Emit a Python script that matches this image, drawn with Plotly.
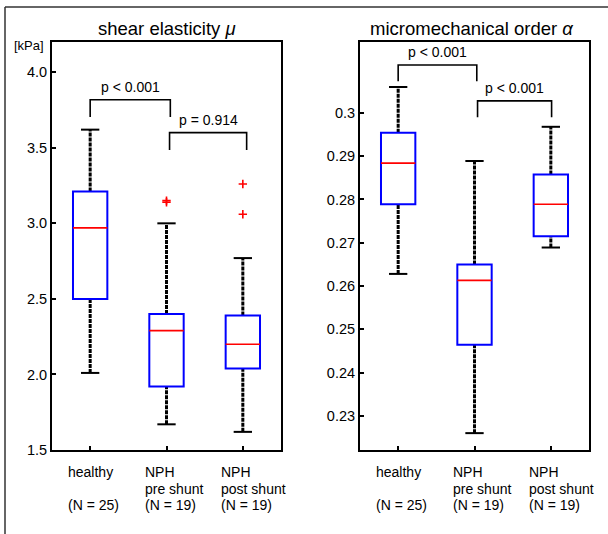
import plotly.graph_objects as go
from plotly.subplots import make_subplots

# ---------------- data ----------------
groups = ["healthy", "NPH pre shunt", "NPH post shunt"]
group_label_lines = [["healthy", "", "(N = 25)"],
                     ["NPH", "pre shunt", "(N = 19)"],
                     ["NPH", "post shunt", "(N = 19)"]]

# shear elasticity mu [kPa]
mu_lower = [2.01, 1.67, 1.62]
mu_q1 = [2.50, 1.92, 2.04]
mu_median = [2.97, 2.29, 2.20]
mu_q3 = [3.21, 2.40, 2.39]
mu_upper = [3.62, 3.00, 2.77]
mu_outlier_group = [1, 1, 2, 2]
mu_outlier_value = [3.14, 3.15, 3.06, 3.26]
mu_ticks = [1.5, 2.0, 2.5, 3.0, 3.5, 4.0]
mu_ticktext = ["1.5", "2.0", "2.5", "3.0", "3.5", "4.0"]

# micromechanical order alpha
al_lower = [0.2628, 0.2260, 0.2689]
al_q1 = [0.2789, 0.2464, 0.2715]
al_median = [0.2884, 0.2613, 0.2789]
al_q3 = [0.2954, 0.2650, 0.2858]
al_upper = [0.3060, 0.2889, 0.2968]
al_ticks = [0.23, 0.24, 0.25, 0.26, 0.27, 0.28, 0.29, 0.30]
al_ticktext = ["0.23", "0.24", "0.25", "0.26", "0.27", "0.28", "0.29", "0.3"]

# significance brackets: (group a, group b, label)
mu_pairs = [(0, 1, "p < 0.001"), (1, 2, "p = 0.914")]
al_pairs = [(0, 1, "p < 0.001"), (1, 2, "p < 0.001")]

# ---------------- figure ----------------
W, H = 608, 534
fig = make_subplots(rows=1, cols=2)

BOX_HALF = 0.225
CAP_HALF = 0.12
FONT = "Liberation Sans, Arial, Helvetica, sans-serif"


def add_boxes(col, lower, q1, med, q3, upper):
    xref = "x" if col == 1 else "x2"
    yref = "y" if col == 1 else "y2"
    for i in range(len(groups)):
        # whiskers
        for a, b in ((q3[i], upper[i]), (lower[i], q1[i])):
            fig.add_trace(go.Scatter(x=[i, i], y=[a, b], mode="lines",
                                     line=dict(color="black", width=3, dash="4px,1px"),
                                     hoverinfo="skip", showlegend=False), row=1, col=col)
        # caps
        for v in (upper[i], lower[i]):
            fig.add_trace(go.Scatter(x=[i - CAP_HALF, i + CAP_HALF], y=[v, v], mode="lines",
                                     line=dict(color="black", width=2),
                                     hoverinfo="skip", showlegend=False), row=1, col=col)
        # box
        fig.add_shape(type="rect", xref=xref, yref=yref,
                      x0=i - BOX_HALF, x1=i + BOX_HALF, y0=q1[i], y1=q3[i],
                      line=dict(color="#0000ff", width=2), fillcolor="rgba(0,0,0,0)",
                      layer="above")
        # median
        fig.add_shape(type="line", xref=xref, yref=yref,
                      x0=i - BOX_HALF, x1=i + BOX_HALF, y0=med[i], y1=med[i],
                      line=dict(color="#ff0000", width=1.6), layer="above")


add_boxes(1, mu_lower, mu_q1, mu_median, mu_q3, mu_upper)
add_boxes(2, al_lower, al_q1, al_median, al_q3, al_upper)

fig.add_trace(go.Scatter(x=mu_outlier_group, y=mu_outlier_value, mode="markers",
                         marker=dict(symbol="cross-thin", size=6,
                                     line=dict(color="#ff0000", width=1.6)),
                         hoverinfo="skip", showlegend=False), row=1, col=1)


def add_brackets(col, pairs, levels, leg, offsets):
    xref = "x" if col == 1 else "x2"
    yref = "y" if col == 1 else "y2"
    for (a, b, txt), top, (oa, ob) in zip(pairs, levels, offsets):
        xa, xb = a + oa, b + ob
        fig.add_shape(type="path", xref=xref, yref=yref,
                      path=f"M {xa} {top - leg} L {xa} {top} L {xb} {top} L {xb} {top - leg}",
                      line=dict(color="black", width=1.6))
        fig.add_annotation(x=(xa + xb) / 2, y=top, xref=xref, yref=yref,
                           text=txt, showarrow=False, yanchor="bottom", yshift=3,
                           font=dict(size=14, color="black", family=FONT))


add_brackets(1, mu_pairs, [3.818, 3.600], 0.115, [(0.0, 0.05), (0.04, 0.05)])
add_brackets(2, al_pairs, [0.3111, 0.3028], 0.0038, [(0.0, 0.03), (0.04, 0.01)])

# layout domains (paper)
dom_y = [1 - 450 / H, 1 - 42 / H]
fig.update_layout(
    width=W, height=H, margin=dict(l=0, r=0, t=0, b=0, autoexpand=False),
    paper_bgcolor="white", plot_bgcolor="white",
    font=dict(family=FONT, color="black"),
    xaxis=dict(domain=[52 / W, 281 / W]),
    xaxis2=dict(domain=[360 / W, 589 / W]),
    yaxis=dict(domain=dom_y),
    yaxis2=dict(domain=dom_y),
)

common_axis = dict(showline=True, mirror=True, linecolor="black", linewidth=2,
                   showgrid=False, zeroline=False, ticks="inside", ticklen=4,
                   tickwidth=1.5, tickcolor="black", automargin=False,
                   tickfont=dict(size=14.5, color="black", family=FONT))
for ax in ("xaxis", "xaxis2"):
    fig.update_layout({ax: dict(range=[-0.5, 2.5], tickvals=list(range(len(groups))),
                                showticklabels=False, **common_axis)})
fig.update_layout(yaxis=dict(range=[1.5, 4.2], tickvals=mu_ticks, ticktext=mu_ticktext,
                             **common_axis))
fig.update_layout(yaxis2=dict(range=[0.2221, 0.3164], tickvals=al_ticks, ticktext=al_ticktext,
                              **common_axis))

# category labels
for col, xref in ((1, "x"), (2, "x2")):
    ydom = "y domain" if col == 1 else "y2 domain"
    for i, lines in enumerate(group_label_lines):
        for k, line in enumerate(lines):
            if not line:
                continue
            fig.add_annotation(x=i, y=0, xref=xref, yref=ydom, text=line,
                               showarrow=False, xanchor="left", yanchor="middle",
                               xshift=-24, yshift=-22 - 16.5 * k,
                               font=dict(size=14, color="black", family=FONT))

# titles
fig.add_annotation(x=0.5, y=1, xref="x domain", yref="y domain",
                   text="shear elasticity <i>μ</i>", showarrow=False,
                   yanchor="middle", yshift=13,
                   font=dict(size=18.5, color="black", family=FONT))
fig.add_annotation(x=0.5, y=1, xref="x2 domain", yref="y2 domain",
                   text="micromechanical order <i>α</i>", showarrow=False,
                   yanchor="middle", yshift=13, xshift=-3,
                   font=dict(size=18.5, color="black", family=FONT))
fig.add_annotation(x=29 / W, y=1 - 46 / H, xref="paper", yref="paper",
                   text="[kPa]", showarrow=False, xanchor="center", yanchor="middle",
                   font=dict(size=13, color="black", family=FONT))

# outer frame (top and left edges)
fig.add_shape(type="line", xref="paper", yref="paper", x0=5 / W, x1=1, y0=1 - 7 / H, y1=1 - 7 / H,
              line=dict(color="#333333", width=1.5))
fig.add_shape(type="line", xref="paper", yref="paper", x0=5 / W, x1=5 / W, y0=0, y1=1 - 7 / H,
              line=dict(color="#333333", width=1.5))

fig.write_html(
    "out.html",
    config={"displayModeBar": False, "responsive": False},
    post_script="document.body.style.margin='0';",
)
